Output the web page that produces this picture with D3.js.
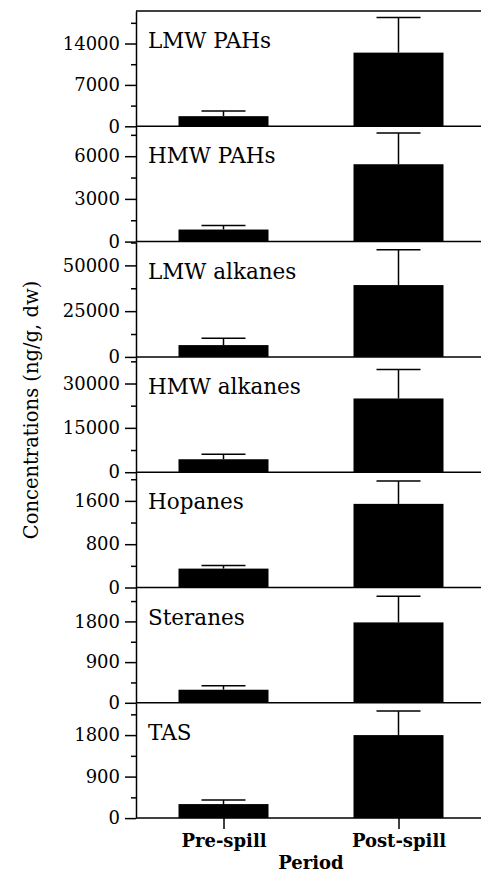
<!DOCTYPE html>
<html>
<head>
<meta charset="utf-8">
<script src="https://cdn.jsdelivr.net/npm/d3@7"></script>
<style>
  body { margin: 0; background: #fff; }
  svg text { font-family: "DejaVu Serif", "Liberation Serif", serif; fill: #000; }
</style>
</head>
<body>
<svg id="chart"></svg>
<script>
const width = 481;
const height = 874;

const periods = ["Pre-spill", "Post-spill"];
const groups = ["LMW PAHs", "HMW PAHs", "LMW alkanes", "HMW alkanes", "Hopanes", "Steranes", "TAS"];
const preMean = [1714, 847, 6450, 4380, 349, 289, 304];
const preSD = [856, 283, 3765, 1690, 56, 89, 86];
const postMean = [12460, 5435, 39250, 24940, 1545, 1778, 1800];
const postSD = [5930, 2190, 19350, 9760, 423, 578, 520];
const yMax = [19500, 8100, 63000, 39000, 2130, 2550, 2500];
const tickStep = [7000, 3000, 25000, 15000, 800, 900, 900];

const serif = '"DejaVu Serif", "Liberation Serif", serif';
const left = 136;
const top0 = 11;
const panelH = 115.3;
const barW = 90;
const capW = 44;

const svg = d3.select("#chart")
    .attr("width", width)
    .attr("height", height);

const x = d3.scalePoint()
    .domain(periods)
    .range([left, 486])
    .padding(0.5);

// top frame line
svg.append("line")
    .attr("x1", left).attr("x2", width)
    .attr("y1", top0).attr("y2", top0)
    .attr("stroke", "black").attr("stroke-width", 1.5);

groups.forEach((g, i) => {
    const pTop = top0 + i * panelH;
    const pBot = pTop + panelH;
    const y = d3.scaleLinear().domain([0, yMax[i]]).range([pBot, pTop]);

    const data = [
        {period: periods[0], mean: preMean[i], sd: preSD[i]},
        {period: periods[1], mean: postMean[i], sd: postSD[i]}
    ];

    const panel = svg.append("g");

    // error bars (upper only)
    panel.selectAll("line.err")
        .data(data)
        .join("line")
        .attr("class", "err")
        .attr("x1", d => x(d.period)).attr("x2", d => x(d.period))
        .attr("y1", d => y(d.mean)).attr("y2", d => y(d.mean + d.sd))
        .attr("stroke", "black").attr("stroke-width", 1.5);

    panel.selectAll("line.cap")
        .data(data)
        .join("line")
        .attr("class", "cap")
        .attr("x1", d => x(d.period) - capW / 2).attr("x2", d => x(d.period) + capW / 2)
        .attr("y1", d => y(d.mean + d.sd)).attr("y2", d => y(d.mean + d.sd))
        .attr("stroke", "black").attr("stroke-width", 1.5);

    panel.selectAll("rect")
        .data(data)
        .join("rect")
        .attr("x", d => x(d.period) - barW / 2)
        .attr("y", d => y(d.mean))
        .attr("width", barW)
        .attr("height", d => y(0) - y(d.mean))
        .attr("fill", "black");

    // minor ticks
    const minor = d3.range(tickStep[i] / 2, yMax[i], tickStep[i]);
    panel.append("g")
        .attr("transform", `translate(${left},0)`)
        .call(d3.axisLeft(y).tickValues(minor).tickSize(5).tickFormat(""))
        .call(a => a.select(".domain").remove())
        .call(a => a.selectAll("line").attr("stroke-width", 1.5));

    // major ticks
    const major = d3.range(0, yMax[i], tickStep[i]);
    panel.append("g")
        .attr("transform", `translate(${left},0)`)
        .call(d3.axisLeft(y).tickValues(major).tickFormat(d3.format("d"))
            .tickSize(11).tickPadding(5).tickSizeOuter(0))
        .attr("font-family", serif)
        .call(a => a.select(".domain").attr("stroke-width", 1.5))
        .call(a => a.selectAll("line").attr("stroke-width", 1.5))
        .call(a => a.selectAll("text").attr("font-size", 18));

    // baseline
    panel.append("line")
        .attr("x1", left).attr("x2", width)
        .attr("y1", y(0)).attr("y2", y(0))
        .attr("stroke", "black").attr("stroke-width", 1.5);

    panel.append("text")
        .attr("x", left + 12)
        .attr("y", pTop + 37)
        .attr("font-size", 21.5)
        .text(g);
});

// x axis
const xBottom = top0 + groups.length * panelH;
svg.append("g")
    .attr("transform", `translate(0,${xBottom})`)
    .call(d3.axisBottom(x).tickSize(11).tickPadding(5).tickSizeOuter(0))
    .attr("font-family", serif)
    .call(a => a.select(".domain").remove())
    .call(a => a.selectAll("line").attr("stroke-width", 1.5))
    .call(a => a.selectAll("text")
        .attr("font-size", 18)
        .attr("font-weight", "bold"));

svg.append("text")
    .attr("x", x(periods[0]) / 2 + x(periods[1]) / 2)
    .attr("y", 869)
    .attr("text-anchor", "middle")
    .attr("font-size", 18)
    .attr("font-weight", "bold")
    .text("Period");

svg.append("text")
    .attr("transform", "translate(38,410) rotate(-90)")
    .attr("text-anchor", "middle")
    .attr("font-size", 19.5)
    .text("Concentrations (ng/g, dw)");
</script>
</body>
</html>
